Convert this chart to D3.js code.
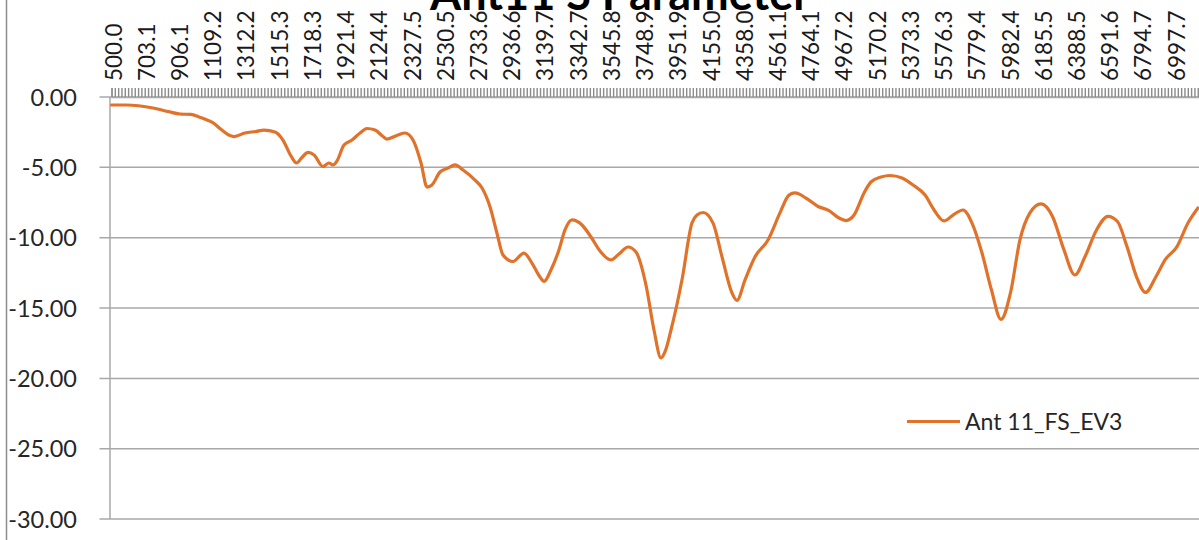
<!DOCTYPE html>
<html>
<head>
<meta charset="utf-8">
<script src="https://cdn.jsdelivr.net/npm/d3@7"></script>
<style>
  html, body { margin: 0; padding: 0; background: #fff; overflow: hidden; }
  svg { display: block; }
</style>
</head>
<body>
<svg id="chart" width="1199" height="540"></svg>
<script>
// ---- data ----
const chartTitle = "Ant11 S Parameter";
const seriesName = "Ant 11_FS_EV3";

const xTickLabels = ["500.0","703.1","906.1","1109.2","1312.2","1515.3","1718.3","1921.4","2124.4",
  "2327.5","2530.5","2733.6","2936.6","3139.7","3342.7","3545.8","3748.9","3951.9","4155.0",
  "4358.0","4561.1","4764.1","4967.2","5170.2","5373.3","5576.3","5779.4","5982.4","6185.5",
  "6388.5","6591.6","6794.7","6997.7"];

const yTickValues = [0, -5, -10, -15, -20, -25, -30];
const yTickLabels = ["0.00", "-5.00", "-10.00", "-15.00", "-20.00", "-25.00", "-30.00"];

const freqMHz = [500,589,754,845,919,986,1035,1084,1114,1175,1224,1249,1316,1383,1432,1499,1548,
  1597,1631,1664,1701,1738,1793,1829,1854,1878,1921,1970,2019,2062,2111,2160,2184,2251,2294,2343,
  2392,2429,2459,2508,2557,2600,2649,2722,2765,2814,2856,2893,2954,3021,3070,3119,3144,3186,3235,
  3272,3315,3376,3431,3486,3553,3602,3657,3706,3767,3816,3859,3883,3920,3987,4048,4079,4116,4177,
  4232,4293,4323,4372,4433,4513,4586,4641,4678,4745,4819,4886,4947,4990,5039,5100,5142,5204,5259,
  5332,5399,5473,5528,5589,5644,5705,5760,5821,5879,5937,5995,6053,6114,6182,6252,6322,6389,6451,
  6521,6591,6649,6707,6765,6820,6885,6940,7013,7080,7141];

const s11dB = [-0.57,-0.57,-0.78,-1.03,-1.21,-1.24,-1.42,-1.63,-1.78,-2.35,-2.74,-2.81,-2.56,-2.45,
  -2.35,-2.49,-3.06,-4.19,-4.69,-4.30,-3.94,-4.12,-4.94,-4.69,-4.83,-4.55,-3.41,-3.06,-2.56,-2.24,
  -2.35,-2.81,-2.99,-2.70,-2.56,-3.06,-4.69,-6.40,-6.25,-5.33,-5.05,-4.83,-5.19,-5.90,-6.47,-7.82,
  -9.67,-11.23,-11.69,-11.09,-11.80,-12.79,-13.11,-12.30,-10.87,-9.45,-8.74,-9.10,-9.95,-10.95,
  -11.58,-11.16,-10.66,-11.02,-13.36,-16.56,-18.55,-18.12,-16.56,-13.01,-8.96,-8.39,-8.21,-8.96,
  -11.37,-13.93,-14.46,-13.01,-11.37,-10.16,-8.24,-6.97,-6.82,-7.18,-7.78,-8.07,-8.60,-8.78,-8.39,
  -6.82,-6.04,-5.69,-5.58,-5.76,-6.25,-6.97,-8.03,-8.81,-8.39,-8.03,-8.96,-11.09,-13.72,-15.81,
  -13.93,-10.16,-8.24,-7.60,-8.49,-10.87,-12.65,-11.34,-9.45,-8.49,-8.85,-10.63,-12.76,-13.89,
  -12.76,-11.58,-10.63,-8.96,-7.89];

// ---- layout ----
const svg = d3.select("#chart");
const FONT = "Lato, 'Open Sans', sans-serif";
const plot = { left: 111.5, right: 1207.6, top: 97, bottom: 519.1 };
const catStep = 20.3053; // category spacing for minor tick marks

const x = d3.scaleLinear().domain([500, 7200]).range([plot.left, plot.right]);
const y = d3.scaleLinear().domain([0, -30]).range([plot.top, plot.bottom]);

// chart area left border
svg.append("line").attr("x1", 6.5).attr("x2", 6.5).attr("y1", 0).attr("y2", 540)
  .attr("stroke", "#8c8c8c").attr("stroke-width", 1.5);

// title (clipped at top, as in the source image)
svg.append("text").attr("x", 620).attr("y", 10).attr("text-anchor", "middle")
  .attr("font-family", FONT).attr("font-weight", "bold").attr("font-size", 45)
  .attr("fill", "#000").text(chartTitle);

// gridlines
svg.append("g").selectAll("line").data(yTickValues).join("line")
  .attr("x1", plot.left - 12).attr("x2", 1199)
  .attr("y1", d => y(d)).attr("y2", d => y(d))
  .attr("stroke", "#a8a8a8").attr("stroke-width", 1.5);

// y axis line
svg.append("line").attr("x1", plot.left - 1.5).attr("x2", plot.left - 1.5)
  .attr("y1", plot.top).attr("y2", plot.bottom)
  .attr("stroke", "#a8a8a8").attr("stroke-width", 1.5);

// y axis labels
const yAxis = d3.axisLeft(y).tickValues(yTickValues)
  .tickFormat((d, i) => yTickLabels[i]).tickSize(0).tickPadding(0);
const yg = svg.append("g").attr("transform", `translate(77,0)`).call(yAxis);
yg.select(".domain").remove();
yg.selectAll("text").attr("font-family", FONT).attr("font-size", 23.5).attr("fill", "#262626")
  .attr("dy", "0.35em");

// top axis minor tick marks
const minorTicks = d3.range(0, Math.floor((7200 - 500) / catStep) + 1).map(i => 500 + i * catStep);
const xMinor = d3.axisTop(x).tickValues(minorTicks).tickSize(9).tickFormat("");
const xm = svg.append("g").attr("transform", `translate(0,${plot.top})`).call(xMinor);
xm.select(".domain").attr("stroke", "#a8a8a8").attr("stroke-width", 1.5);
xm.selectAll(".tick line").attr("stroke", "#8a8a8a").attr("stroke-width", 1.4);

// top axis labels (rotated)
const labelAxis = d3.axisTop(x).tickValues(xTickLabels.map(Number))
  .tickFormat((d, i) => xTickLabels[i]).tickSize(0).tickPadding(0);
const xl = svg.append("g").attr("transform", `translate(0,${plot.top})`).call(labelAxis);
xl.select(".domain").remove();
xl.selectAll("text")
  .attr("font-family", FONT).attr("font-size", 22.5).attr("fill", "#1a1a1a")
  .attr("text-anchor", "start")
  .attr("transform", "translate(1.5,-16) rotate(-90)")
  .attr("x", 0).attr("y", 0).attr("dy", "0.36em");

// series line
const pts = freqMHz.map((f, i) => [f, s11dB[i]]);
const line = d3.line().x(d => x(d[0])).y(d => y(d[1])).curve(d3.curveMonotoneX);
svg.append("path").datum(pts).attr("d", line)
  .attr("fill", "none").attr("stroke", "#E0722A").attr("stroke-width", 3.2)
  .attr("stroke-linejoin", "round").attr("stroke-linecap", "round");

// legend
const lg = svg.append("g").attr("transform", "translate(907,421.5)");
lg.append("line").attr("x1", 0).attr("x2", 53).attr("y1", 0).attr("y2", 0)
  .attr("stroke", "#E0722A").attr("stroke-width", 3.2);
lg.append("text").attr("x", 58).attr("y", 0).attr("dy", "0.35em")
  .attr("font-family", FONT).attr("font-size", 23).attr("fill", "#262626").text(seriesName);
</script>
</body>
</html>
